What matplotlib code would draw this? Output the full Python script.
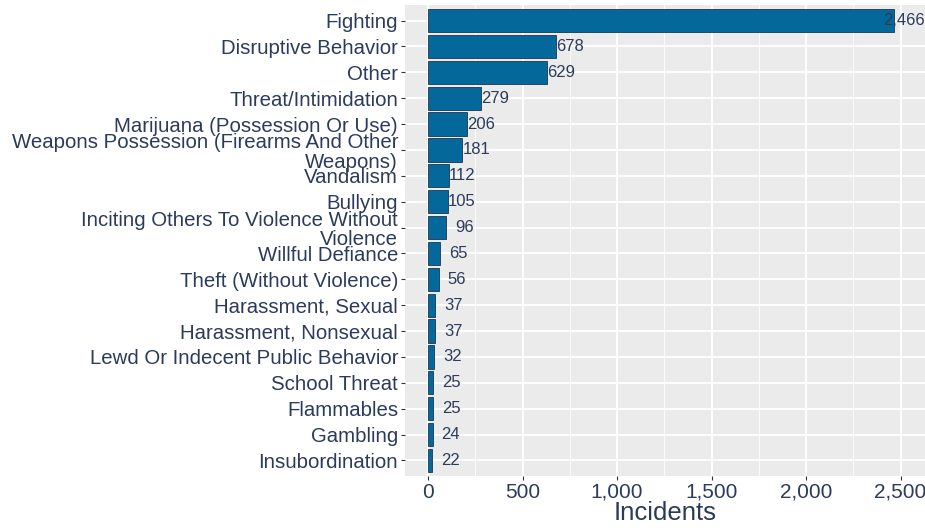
import matplotlib
matplotlib.use("Agg")
import matplotlib.pyplot as plt
from matplotlib.ticker import FuncFormatter, MultipleLocator

categories = [
    "Fighting", "Disruptive Behavior", "Other", "Threat/Intimidation",
    "Marijuana (Possession Or Use)",
    "Weapons Possession (Firearms And Other\nWeapons)",
    "Vandalism", "Bullying",
    "Inciting Others To Violence Without\nViolence",
    "Willful Defiance", "Theft (Without Violence)", "Harassment, Sexual",
    "Harassment, Nonsexual", "Lewd Or Indecent Public Behavior",
    "School Threat", "Flammables", "Gambling", "Insubordination",
]
incidents = [2466, 678, 629, 279, 206, 181, 112, 105, 96, 65, 56, 37, 37, 32, 25, 25, 24, 22]

text_col = "#2b3b5c"
bar_col = "#05689a"
plt.rcParams["font.family"] = ["Liberation Sans", "DejaVu Sans"]

fig = plt.figure(figsize=(9.25, 5.31), dpi=100)
ax = fig.add_axes([405 / 925, 1 - 476 / 531, 520 / 925, 471 / 531])
ax.set_facecolor("#EBEBEB")

ypos = list(range(len(categories)))[::-1]
ax.barh(ypos, incidents, height=0.9, color=bar_col, edgecolor="#1f3550", linewidth=0.6, zorder=3)

for y, v in zip(ypos, incidents):
    if v < 100:
        off = 9
    elif v < 1000:
        off = 0
    else:
        off = -11
    ax.annotate(f"{v:,}", (v, y), xytext=(off, 0), textcoords="offset pixels",
                ha="left", va="center", fontsize=12, color=text_col, zorder=4)

ax.set_xlim(-122, 2629)
ax.set_ylim(-0.6, len(categories) - 0.4)
ax.xaxis.set_major_locator(MultipleLocator(500))
ax.xaxis.set_minor_locator(MultipleLocator(250))
ax.xaxis.set_major_formatter(FuncFormatter(lambda x, p: f"{int(x):,}"))
ax.set_yticks(ypos)
ax.set_yticklabels(categories, linespacing=1.05, fontsize=14.7)

ax.grid(which="major", color="white", linewidth=1.3, zorder=0)
ax.grid(which="minor", axis="x", color="white", linewidth=0.6, zorder=0)
ax.set_axisbelow(True)
for s in ax.spines.values():
    s.set_visible(False)

ax.tick_params(axis="both", which="major", length=3, width=0.8, color="#333333",
               labelcolor=text_col, pad=2)
ax.tick_params(axis="x", which="major", labelsize=15)
ax.tick_params(axis="x", which="minor", length=0)
ax.set_xlabel("Incidents", fontsize=18.5, color=text_col, labelpad=-1)

fig.savefig("out.png", dpi=100)
